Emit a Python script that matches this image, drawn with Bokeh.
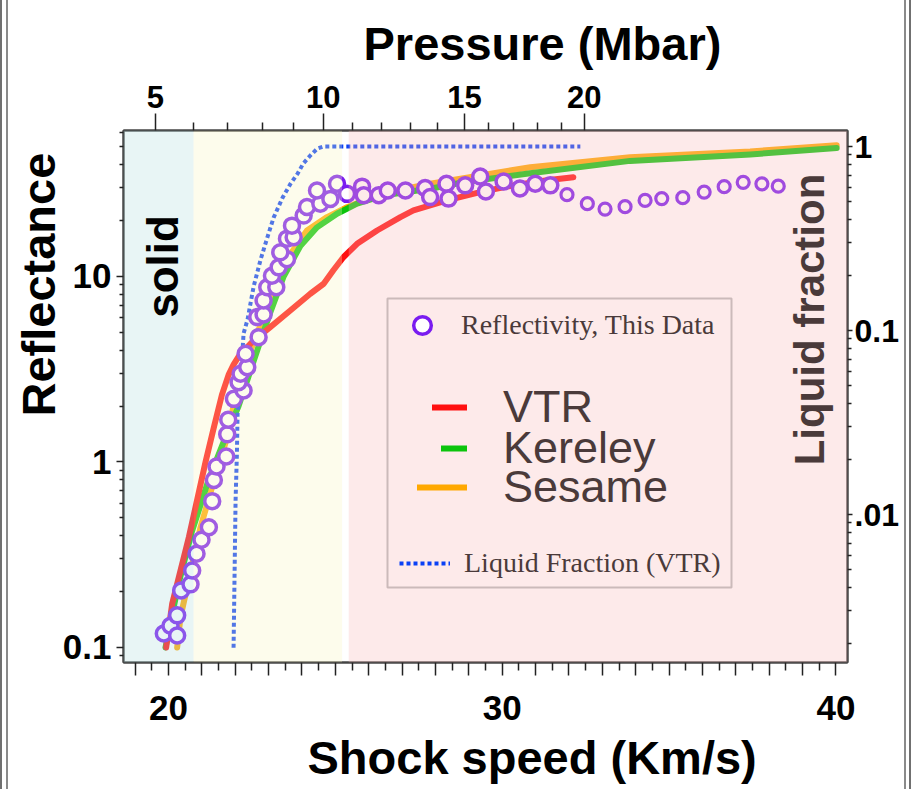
import math
from bokeh.plotting import figure
from bokeh.models import (Range1d, LinearAxis, LogAxis, LogScale, FixedTicker,
                          BoxAnnotation, Label, Legend, LegendItem, Title)
from bokeh.embed import file_html
from bokeh.resources import INLINE

# ---------------- data ----------------
# measured reflectivity, shock speed (km/s) -> reflectance
refl_speed_main = [19.86, 20.06, 20.26, 20.26, 20.38, 20.66, 20.71, 20.84, 20.99, 21.21,
                   21.31, 21.36, 21.44, 21.73, 21.76, 21.79, 21.96, 22.25, 22.10, 22.16,
                   22.36, 22.31, 22.70, 22.66, 22.85, 22.85, 22.96, 23.23, 23.10, 23.30,
                   23.55, 23.35, 23.55, 23.75, 23.70, 24.05, 24.15, 24.55, 24.45, 24.85,
                   25.05, 25.35, 25.80, 25.85, 26.30, 26.57, 27.10, 27.69, 27.84, 28.33,
                   28.39, 28.89, 29.34, 29.51, 30.04, 30.53, 30.99, 31.44]
refl_value_main = [0.119, 0.131, 0.116, 0.149, 0.203, 0.219, 0.260, 0.320, 0.381, 0.445,
                   0.615, 0.80, 0.946, 1.07, 1.41, 1.69, 2.19, 2.43, 2.69, 2.99,
                   3.24, 3.83, 4.71, 6.04, 6.24, 7.43, 8.75, 8.75, 10.1, 11.2,
                   12.4, 13.5, 16.0, 16.3, 18.8, 21.3, 23.7, 24.7, 29.1, 26.2,
                   31.6, 27.9, 30.5, 27.4, 27.4, 29.1, 29.1, 30.0, 26.8, 31.6,
                   26.3, 31.0, 34.6, 28.7, 32.5, 29.8, 31.6, 31.0]
refl_speed_late = [31.94, 32.55, 33.08, 33.68, 34.28, 34.78, 35.41, 36.05, 36.65, 37.22, 37.78, 38.27]
refl_value_late = [27.6, 24.7, 23.1, 23.8, 25.7, 26.3, 26.6, 28.5, 30.5, 32.2, 31.6, 30.7]

vtr_speed = [19.93, 20.11, 20.61, 21.11, 21.36, 21.60, 21.80, 21.95, 22.10, 22.30, 22.54,
             23.05, 23.65, 24.25, 24.65, 24.94, 25.24, 25.65, 26.25, 26.95, 27.34, 28.34,
             29.34, 30.33, 31.34, 32.13]
vtr_reflectance = [0.10, 0.172, 0.393, 1.00, 1.54, 2.30, 2.95, 3.35, 3.70, 4.05, 4.50,
                   5.33, 6.56, 8.07, 9.14, 10.8, 12.7, 15.0, 17.7, 20.9, 22.7, 25.7,
                   28.5, 31.0, 33.0, 34.3]

kerley_speed = [19.91, 20.30, 20.70, 21.20, 21.70, 22.10, 22.40, 22.70, 23.05, 23.45, 23.95,
                24.45, 25.05, 25.65, 26.45, 27.84, 28.84, 30.84, 33.83, 37.43, 40.02]
kerley_reflectance = [0.10, 0.22, 0.42, 0.80, 1.35, 2.0, 2.9, 4.2, 6.4, 10.0, 14.6,
                      18.4, 21.8, 24.7, 27.4, 29.7, 32.2, 36.0, 42.0, 45.5, 49.3]

sesame_speed = [20.26, 20.36, 20.96, 21.36, 21.76, 22.06, 22.46, 22.85, 23.25, 23.65, 24.15,
                24.75, 25.35, 25.85, 26.85, 27.84, 29.34, 30.84, 32.34, 33.83, 37.43, 40.02]
sesame_reflectance = [0.10, 0.146, 0.445, 0.79, 1.36, 2.53, 3.99, 6.04, 9.14, 13.2, 17.7,
                      20.9, 23.6, 25.7, 29.1, 31.6, 35.1, 38.8, 41.3, 44.0, 47.2, 51.0]

liquid_speed = [21.95, 22.01, 22.05, 22.07, 22.16, 22.20, 22.25, 22.37, 22.55, 22.76,
                22.97, 23.15, 23.42, 23.66, 23.87, 24.04, 24.25, 24.46, 24.64, 32.34]
liquid_fraction = [0.00189, 0.0119, 0.0214, 0.0354, 0.0535, 0.0687, 0.0964, 0.115, 0.173, 0.243,
                   0.324, 0.411, 0.528, 0.629, 0.713, 0.809, 0.894, 0.975, 1.0, 1.0]

# Hugoniot: pressure (Mbar) -> shock speed (km/s), for the top axis
pressure_mbar = [5, 6, 7, 8, 9, 10, 11, 12, 13, 14, 15, 16, 17, 18, 19, 20]
pressure_shock_speed = [19.61, 20.75, 21.77, 22.82, 23.75, 24.64, 25.51, 26.38, 27.25, 28.06,
                        28.87, 29.59, 30.34, 31.06, 31.78, 32.46]
pressure_labels = [5, 10, 15, 20]

speed_ticks = list(range(19, 41))
speed_labels = [20, 30, 40]
reflectance_ticks = [0.1, 1, 10]
reflectance_labels = ["0.1", "1", "10"]
fraction_ticks = [0.01, 0.1, 1]
fraction_labels = [".01", "0.1", "1"]

# phase regions (shock speed, km/s)
solid_end_speed = 20.75
melt_end_speed = 25.2
liquid_start_speed = 25.4

# ---------------- layout ----------------
W, H = 916, 789
FRAME_L, FRAME_R, FRAME_T, FRAME_B = 123, 847, 130, 662
X_START, X_END = 18.652, 40.345
Y_START, Y_END = 0.0830, 61.24
LF_START, LF_END = 0.00157, 1.222

def speed_at(px):
    return X_START + (px - FRAME_L) * (X_END - X_START) / (FRAME_R - FRAME_L)

def refl_at(py):
    f = (FRAME_B - py) / (FRAME_B - FRAME_T)
    return 10 ** (math.log10(Y_START) + f * (math.log10(Y_END) - math.log10(Y_START)))

FONT = "Liberation Sans"
SERIF = "Liberation Serif"
INK = "#4a3a3a"

p = figure(width=W, height=H, output_backend="svg", toolbar_location=None,
           x_range=Range1d(X_START, X_END), y_range=Range1d(Y_START, Y_END),
           y_axis_type="log", title="Pressure (Mbar)",
           min_border_left=FRAME_L, min_border_right=W - FRAME_R,
           min_border_top=FRAME_T, min_border_bottom=H - FRAME_B,
           background_fill_color="white", border_fill_color="white",
           border_fill_alpha=0)
p.styles = {"box-shadow": ("inset 2px 0 0 #707070, inset 6px 0 0 #ffffff, inset 8px 0 0 #8a8a8a, "
                           "inset -5px 0 0 #ffffff, inset -7px 0 0 #707070, "
                           "inset -10px 0 0 #ffffff, inset -12px 0 0 #8a8a8a")}
p.extra_y_ranges = {"lf": Range1d(LF_START, LF_END)}
p.extra_y_scales = {"lf": LogScale()}
p.xgrid.visible = False
p.ygrid.visible = False
p.outline_line_color = "#4a4a4a"
p.outline_line_width = 2

def style_axis(ax, size, tick_out, minor_out, standoff):
    ax.major_label_text_font = FONT
    ax.major_label_text_font_style = "bold"
    ax.major_label_text_font_size = size
    ax.major_label_text_color = "black"
    ax.major_tick_out = tick_out
    ax.major_tick_in = 0
    ax.minor_tick_out = minor_out
    ax.minor_tick_in = 0
    ax.major_label_standoff = standoff
    ax.axis_line_color = "#444444"
    ax.axis_line_width = 2
    ax.major_tick_line_color = "#222222"
    ax.minor_tick_line_color = "#222222"
    ax.major_tick_line_width = 1.5
    ax.minor_tick_line_width = 1.5

def log_minors(lo, hi):
    out = []
    for e in range(lo, hi + 1):
        for m in range(2, 10):
            out.append(round(m * 10 ** e, 6))
    return out

# bottom axis: shock speed
xax = p.xaxis[0]
xax.ticker = FixedTicker(ticks=speed_ticks, minor_ticks=[t + 0.5 for t in speed_ticks])
xax.major_label_overrides = {t: (str(t) if t in speed_labels else "") for t in speed_ticks}
style_axis(xax, "35px", 13, 8, 20)

# left axis: reflectance
yax = p.yaxis[0]
yax.ticker = FixedTicker(ticks=reflectance_ticks, minor_ticks=log_minors(-2, 1))
yax.major_label_overrides = dict(zip(reflectance_ticks, reflectance_labels))
style_axis(yax, "35px", 7, 4, 5)

# top axis: pressure
major_sp = [s for m, s in zip(pressure_mbar, pressure_shock_speed) if m in pressure_labels]
minor_sp = [s for m, s in zip(pressure_mbar, pressure_shock_speed) if m not in pressure_labels]
top_ax = LinearAxis(ticker=FixedTicker(ticks=major_sp, minor_ticks=minor_sp))
top_ax.major_label_overrides = {s: str(m) for m, s in zip(pressure_mbar, pressure_shock_speed)
                                if m in pressure_labels}
style_axis(top_ax, "31px", 17, 8, 6)
p.add_layout(top_ax, "above")

# right axis: liquid fraction
r_ax = LogAxis(y_range_name="lf",
               ticker=FixedTicker(ticks=fraction_ticks, minor_ticks=log_minors(-3, 0)))
r_ax.major_label_overrides = dict(zip(fraction_ticks, fraction_labels))
style_axis(r_ax, "32px", 5, 4, 2)
p.add_layout(r_ax, "right")

# titles
p.title.text_font = FONT
p.title.text_font_style = "bold"
p.title.text_font_size = "47px"
p.title.text_color = "black"
p.title.text_line_height = 0.8
p.title.align = "left"
p.title.vertical_align = "bottom"
p.title.offset = 240
p.title.standoff = 26

t_bottom = Title(text="Shock speed (Km/s)", align="left", offset=184, standoff=12,
                 text_font=FONT, text_font_style="bold", text_font_size="47px",
                 text_color="black")
p.add_layout(t_bottom, "below")
t_left = Title(text="Reflectance", align="left", offset=246, standoff=-10,
               text_font=FONT, text_font_style="bold", text_font_size="47px",
               text_color="black")
p.add_layout(t_left, "left")

# ---------------- glyphs ----------------
r_ses = p.line(sesame_speed, sesame_reflectance, line_color="#ffa800", line_width=6,
               line_cap="round", line_join="round")
r_ker = p.line(kerley_speed, kerley_reflectance, line_color="#0cc40c", line_width=6,
               line_cap="round", line_join="round")
r_vtr = p.line(vtr_speed, vtr_reflectance, line_color="#ff1010", line_width=6,
               line_cap="round", line_join="round")
r_lf = p.line(liquid_speed, liquid_fraction, y_range_name="lf", line_color="#0a40f5",
              line_width=4, line_dash="4 3")
r_da = p.scatter(refl_speed_main, refl_value_main, marker="circle", size=15,
                 line_color="#7a1cf0", line_width=3.5, fill_color="white")
r_db = p.scatter(refl_speed_late, refl_value_late, marker="circle", size=12,
                 line_color="#7a1cf0", line_width=3.2, fill_color="white")

# ---------------- phase shading (translucent overlays) ----------------
p.add_layout(BoxAnnotation(right=solid_end_speed, fill_color="#b2dede", fill_alpha=0.3,
                           line_alpha=0))
p.add_layout(BoxAnnotation(left=solid_end_speed, right=melt_end_speed, fill_color="#f8f5c0",
                           fill_alpha=0.3, line_alpha=0))
p.add_layout(BoxAnnotation(left=liquid_start_speed, fill_color="#f8b9b9", fill_alpha=0.3,
                           line_alpha=0))

# ---------------- legend ----------------
def add_item(label, renderer, glyph_left, center_y, glyph_w, glyph_h, standoff, font, size):
    loc = (glyph_left - FRAME_L, FRAME_B - (center_y + glyph_h / 2))
    lg = Legend(items=[LegendItem(label=label, renderers=[renderer])], location=loc,
                orientation="vertical", padding=0, margin=0, spacing=0,
                glyph_width=glyph_w, glyph_height=glyph_h, label_height=glyph_h,
                label_standoff=standoff, label_text_font=font, label_text_font_size=size,
                label_text_color=INK, border_line_alpha=0, background_fill_alpha=0)
    p.add_layout(lg, "center")

add_item("Reflectivity, This Data", r_da, 400, 325, 44, 44, 17, SERIF, "28px")
add_item("VTR", r_vtr, 432, 407, 35, 56, 36, FONT, "45px")
add_item("Kereley", r_ker, 441, 448, 26, 56, 36, FONT, "45px")
add_item("Sesame", r_ses, 417, 487, 50, 56, 36, FONT, "45px")
add_item("Liquid Fraction (VTR)", r_lf, 399, 563, 51, 40, 14, SERIF, "28px")

p.add_layout(BoxAnnotation(left=speed_at(387), right=speed_at(731),
                           top=refl_at(298), bottom=refl_at(587),
                           fill_alpha=0, line_color="#5a4c4c", line_width=2))

p.add_layout(Label(x=speed_at(809), y=refl_at(319), text="Liquid fraction", angle=math.pi / 2,
                   text_align="center", text_baseline="middle", text_font=FONT,
                   text_font_style="bold", text_font_size="42px", text_color=INK))

p.add_layout(Label(x=speed_at(162), y=refl_at(266), text="solid", angle=math.pi / 2,
                   text_align="center", text_baseline="middle", text_font=FONT,
                   text_font_style="bold", text_font_size="44px", text_color="black"))

open("out.html", "w").write(file_html(p, INLINE))
